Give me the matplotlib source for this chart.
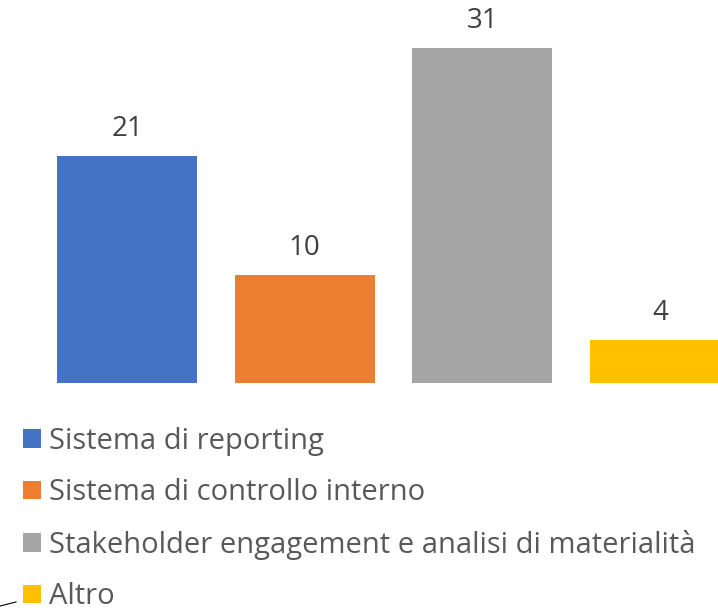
import matplotlib.pyplot as plt
from matplotlib.lines import Line2D

categories = ["Sistema di reporting", "Sistema di controllo interno",
              "Stakeholder engagement e analisi di materialità", "Altro"]
values = [21, 10, 31, 4]
colors = ["#4472C4", "#ED7D31", "#A5A5A5", "#FFC000"]

plt.rcParams['font.family'] = ['Open Sans', 'DejaVu Sans']
text_col = "#595959"

fig = plt.figure(figsize=(7.18, 6.13), dpi=100)
W, H = 718, 613
# axes placed in pixel terms, last bar runs past the right edge
ax = fig.add_axes([38.25 / W, (H - 383) / H, 710.5 / W, 378 / H])
bars = ax.bar(range(len(values)), values, width=0.789, color=colors)
ax.set_xlim(-0.5, 3.5)
ax.set_ylim(0, 35)
ax.axis('off')

for b, v in zip(bars, values):
    ax.annotate(str(v), (b.get_x() + b.get_width() / 2, v), xytext=(0, 14.4),
                textcoords='offset points', ha='center', va='baseline',
                fontsize=20, color="#404040")

leg = fig.legend(bars, categories, loc='upper left', bbox_to_anchor=(23 / W, 1 - 427 / H),
                 frameon=False, fontsize=21, handlelength=0.6, handleheight=0.6,
                 handletextpad=0.28, labelspacing=0.77, borderpad=0, borderaxespad=0)
for t in leg.get_texts():
    t.set_color(text_col)

# small leader line at lower left
fig.add_artist(Line2D([0, 16 / W], [1 - 606 / H, 1 - 602 / H], color='black', lw=0.8))

fig.savefig("out.png", dpi=100)
